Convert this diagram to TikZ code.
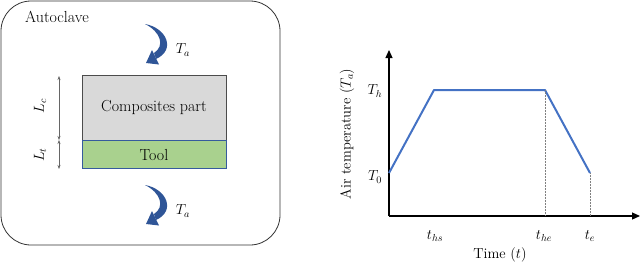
\RequirePackage{fix-cm}
\documentclass[tikz,border=0pt]{standalone}
\usepackage{fontspec}
\usetikzlibrary{arrows.meta}
\definecolor{arrowblue}{RGB}{47,85,151}
\definecolor{lineblue}{RGB}{68,114,196}
\definecolor{partgray}{RGB}{217,217,217}
\definecolor{toolgreen}{RGB}{169,209,142}
\tikzset{
  lbl/.style={font=\fontsize{14.5}{17}\selectfont, inner sep=0pt},
  txt/.style={font=\fontsize{16}{19}\selectfont, inner sep=0pt},
  box/.style={draw=black!70, line width=0.8pt, minimum width=144pt, inner sep=0pt},
  dimline/.style={draw=black!60, line width=0.5pt, {Stealth[length=4pt,width=3pt]}-{Stealth[length=4pt,width=3pt]}},
  curve/.style={draw=lineblue, line width=2pt, line join=round},
  guide/.style={draw=black!50, line width=0.5pt, densely dotted},
  axis/.style={draw=black, line width=1.2pt, -{Triangle[length=8pt,width=7pt]}},
  heatarrow/.style={fill=arrowblue, draw=none}
}
\begin{document}
\begin{tikzpicture}[x=1pt,y=-1pt]
\useasboundingbox (0,0) rectangle (640,263);
% autoclave
\node[draw=black!80, line width=0.8pt, rounded corners=30pt, minimum width=279pt, minimum height=244pt, inner sep=0pt] (clave) at (140.5,123) {};
\node[txt, anchor=west] (clavelbl) at (25,17) {Autoclave};
% part and tool
\node[box, fill=partgray, minimum height=65pt] (part) at (154,107.5) {};
\node[txt] (partlbl) at (part.center) {Composites part};
\node[box, draw=lineblue!80!black, fill=toolgreen, minimum height=28pt, anchor=north] (tool) at (part.south) {};
\node[txt] (toollbl) at (tool.center) {Tool};
% dimensions
\coordinate (dtop) at (59,76);
\coordinate (dmid) at (59,140);
\coordinate (dbot) at (59,169);
\draw[dimline] (dtop) -- (dmid);
\draw[dimline] (dmid) -- (dbot);
\node[lbl, rotate=90] (lc) at (40,106) {$L_c$};
\node[lbl, rotate=90] (lt) at (40,155) {$L_t$};
% heat arrows
\foreach \dy/\nm in {0/top,161/bot}{
  \begin{scope}[shift={(0,\dy)}]
    \fill[heatarrow] (145,24) .. controls (167,28) and (176,50) .. (156,59)
      -- (154,53) .. controls (165,46) and (161,32) .. (145,24) -- cycle;
    \fill[heatarrow] (152,50) -- (146,63) -- (159,64.5) -- cycle;
    \node[lbl] (ta\nm) at (183,50) {$T_a$};
  \end{scope}
}
% plot
\coordinate (origin) at (389,216);
\coordinate (yend) at (389,50);
\coordinate (xend) at (640,216);
\draw[axis] (origin) -- (yend);
\draw[axis] (origin) -- (xend);
\coordinate (p0) at (389,173);
\coordinate (p1) at (434,90);
\coordinate (p2) at (545,90);
\coordinate (p3) at (590,173);
\draw[curve] (p0) -- (p1) -- (p2) -- (p3);
\coordinate (g2) at (545,216);
\coordinate (g3) at (590,216);
\draw[guide] (p2) -- (g2);
\draw[guide] (p3) -- (g3);
\node[lbl] (th) at (375,91) {$T_h$};
\node[lbl] (t0) at (375,177) {$T_0$};
\node[lbl] (ths) at (435,236) {$t_{hs}$};
\node[lbl] (the) at (544,236) {$t_{he}$};
\node[lbl] (te) at (590,236) {$t_e$};
\node[lbl] (xlbl) at (500,255) {Time ($t$)};
\node[lbl, rotate=90] (ylbl) at (347,134) {Air temperature ($T_a$)};
\end{tikzpicture}
\end{document}
